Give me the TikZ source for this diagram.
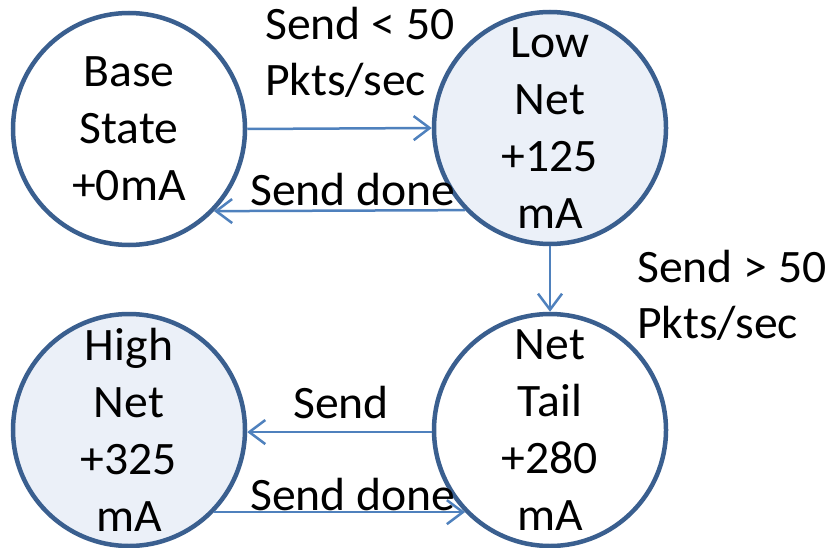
\documentclass[tikz,border=0pt]{standalone}
\usepackage{fontspec}
\setmainfont{Carlito}[FakeStretch=1.025]
\usetikzlibrary{arrows.meta}
\definecolor{ringblue}{HTML}{3A5F8F}
\definecolor{paleblue}{HTML}{EBF0F8}
\definecolor{linkblue}{HTML}{4F81BD}

\begin{document}
\begin{tikzpicture}[x=1pt,y=-1pt,
  state/.style={circle, draw=ringblue, line width=4.5pt, minimum size=232pt,
    inner sep=0pt, align=center, font=\fontsize{46.5}{57}\selectfont},
  busy/.style={state, fill=paleblue},
  idle/.style={state, fill=white},
  link/.style={draw=linkblue, line width=2.5pt,
    -{Straight Barb[length=16pt,width=24pt]}},
  lbl/.style={inner sep=0pt, align=left, font=\fontsize{46.5}{56}\selectfont}]

  % canvas
  \fill[white] (0,0) rectangle (829,548);
  \useasboundingbox (0,0) rectangle (829,548);

  % power states
  \node[idle] (base) at (129,129) {Base\\State\\+0mA};
  \node[busy] (low)  at (550,128) {Low\\Net\\+125\\mA};
  \node[idle] (tail) at (550,430) {Net\\Tail\\+280\\mA};
  \node[busy] (high) at (129,430) {High\\Net\\+325\\mA};

  % transitions
  \draw[link] (base.east) -- (low.west);
  \draw[link] (low.224.7) -- (base.-44.7);
  \draw[link] (low.south) -- (tail.north);
  \draw[link] (tail.181.5) -- (high.-1.5);
  \draw[link] (high.-44.7) -- (tail.224.7);

  % transition labels
  \node[lbl, anchor=north west] (t1) at (265,7) {Send < 50\\Pkts/sec};
  \node[lbl, anchor=base west] (t2) at (250,205) {Send done};
  \node[lbl, anchor=north west] (t3) at (637,250) {Send > 50\\Pkts/sec};
  \node[lbl, anchor=base west] (t4) at (293,418) {Send};
  \node[lbl, anchor=base west] (t5) at (250,510) {Send done};
\end{tikzpicture}
\end{document}
